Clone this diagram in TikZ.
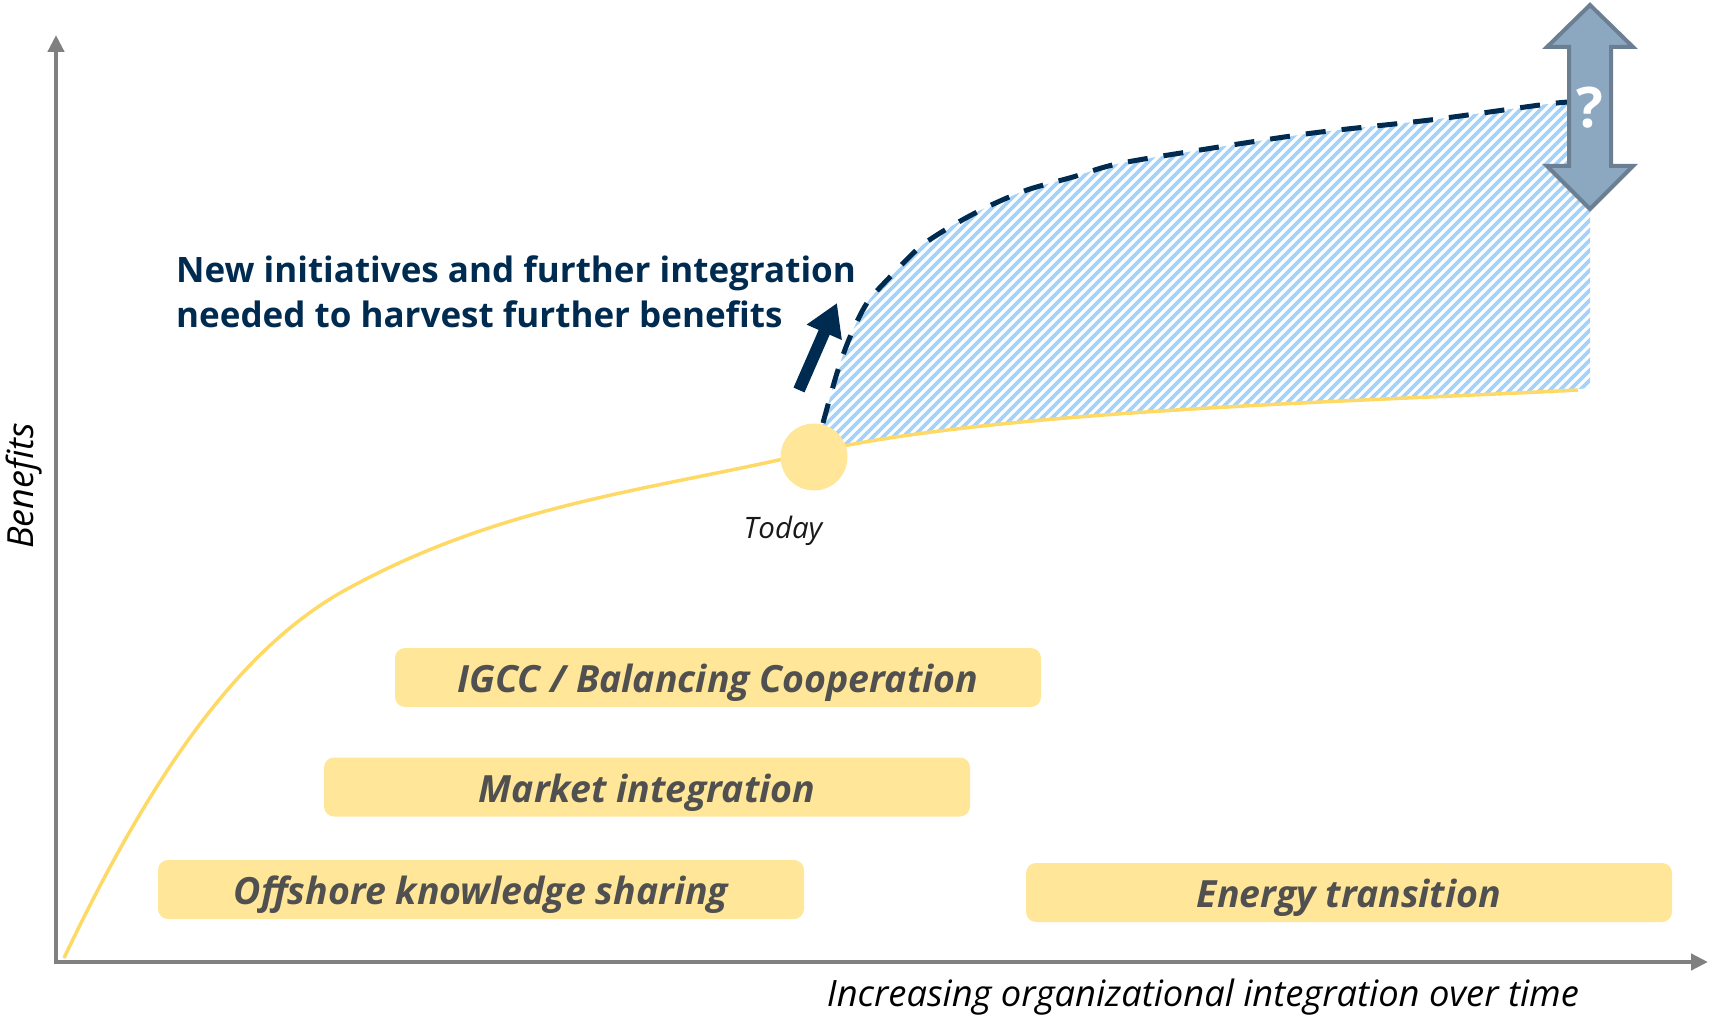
\documentclass[tikz,border=0pt]{standalone}
\usepackage{fontspec}
\setmainfont{Open Sans}
\usetikzlibrary{arrows.meta}
\definecolor{navy}{HTML}{002B50}
\definecolor{curveyellow}{HTML}{FFD966}
\definecolor{boxyellow}{HTML}{FFE699}
\definecolor{hatchblue}{HTML}{A4D2FA}
\definecolor{axisgray}{HTML}{808080}
\definecolor{boxtext}{HTML}{505050}
\definecolor{qfill}{HTML}{8CA8C0}
\definecolor{qedge}{HTML}{6B7E92}
\tikzset{
  axis/.style={draw=axisgray, line width=4.5pt, line join=miter,
    {Triangle[length=17pt,width=16pt]}-{Triangle[length=17pt,width=16pt]}},
  stagebox/.style={fill=boxyellow, rounded corners=10pt, minimum width=646pt,
    minimum height=59pt, inner sep=0pt, text=boxtext, text height=34pt, text depth=4pt,
    font=\fontsize{37.5}{40}\selectfont\bfseries\itshape},
  yellowline/.style={draw=curveyellow, line width=3.5pt},
  dashedline/.style={draw=navy, line width=5pt, dash pattern=on 20pt off 16pt},
  hatch/.style={draw=hatchblue, line width=3.6pt},
}
\begin{document}
\begin{tikzpicture}[x=1pt,y=-1pt]
\useasboundingbox (0,0) rectangle (1709,1016);
% hatched region
\begin{scope}
\clip plot[smooth] coordinates {(823,423) (837,373) (850,337) (867,303) (890,277) (920,247) (950,227) (987,207) (1027,190) (1073,177) (1117,164) (1200,150) (1313,133) (1430,120) (1540,105) (1568,102)}
  -- (1590,100) -- (1590,388) -- (1578,389)
  .. controls (1350,401) and (1000,409) .. (814,451) -- cycle;
\foreach \i in {300,310,...,1700} \draw[hatch] (\i,500) -- ++(450,-450);
\end{scope}
% axes
\coordinate (ytop) at (56,35);
\coordinate (orig) at (56,962);
\coordinate (xend) at (1708,962);
\draw[axis] (ytop) -- (orig) -- (xend);
% yellow curve
\coordinate (ystart) at (64,958);
\coordinate (ymid) at (340,593);
\coordinate (ytoday) at (814,452);
\coordinate (yend) at (1578,390);
\draw[yellowline] (ystart) .. controls (154,769) and (240,651) .. (ymid)
  .. controls (500,503) and (654,490) .. (ytoday)
  .. controls (1000,410) and (1350,402) .. (yend);
% dashed curve
\draw[dashedline] plot[smooth] coordinates {(823,423) (837,373) (850,337) (867,303) (890,277) (920,247) (950,227) (987,207) (1027,190) (1073,177) (1117,164) (1200,150) (1313,133) (1430,120) (1540,105) (1568,102)};
% today
\node[circle, fill=boxyellow, minimum size=67pt, inner sep=0pt] (today) at (814,457) {};
\node[anchor=base, font=\fontsize{29.5}{31}\selectfont\itshape, text=black!90] (todaylbl) at (783,538) {Today};
% navy arrow
\coordinate (na1) at (799,390);
\coordinate (na2) at (837,303);
\draw[navy, line width=12pt, -{Triangle[length=32pt,width=36pt]}] (na1) -- (na2);
% header text
\node[anchor=north west, align=left, text=navy, font=\fontsize{35}{44.5}\selectfont\bfseries, inner sep=0pt] (header) at (176,256)
  {New initiatives and further integration\\needed to harvest further benefits};
% double arrow
\draw[fill=qfill, draw=qedge, line width=4pt, line join=miter]
  (1590,5) -- (1633,47) -- (1611,47) -- (1611,166) -- (1633,166) -- (1590,209)
  -- (1547,166) -- (1569,166) -- (1569,47) -- (1547,47) -- cycle;
\node[text=white, font=\fontsize{56}{60}\selectfont\bfseries] (q) at (1590,108) {?};
% boxes
\node[stagebox] (igcc) at (718,677.5) {IGCC / Balancing Cooperation};
\node[stagebox] (market) at (647,787) {Market integration};
\node[stagebox] (offshore) at (481,889.5) {Offshore knowledge sharing};
\node[stagebox] (energy) at (1349,892.5) {Energy transition};
% axis labels
\node[rotate=90, anchor=base, font=\fontsize{36}{38}\selectfont\itshape, text=black] (benefits) at (33,486) {Benefits};
\node[anchor=base, font=\fontsize{36.3}{38}\selectfont\itshape, text=black] (xlabel) at (1203,1006) {Increasing organizational integration over time};
\end{tikzpicture}
\end{document}
